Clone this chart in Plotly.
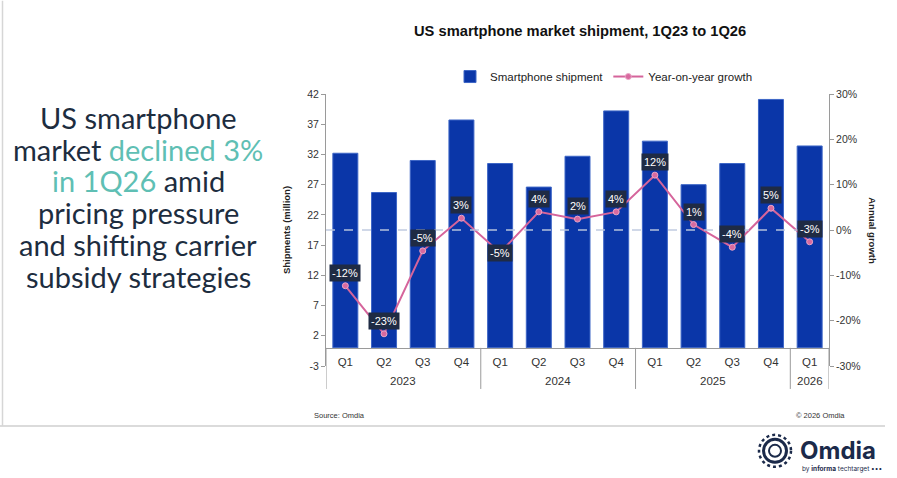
import plotly.graph_objects as go

# ---------------- data ----------------
years = ["2023", "2023", "2023", "2023", "2024", "2024", "2024", "2024",
         "2025", "2025", "2025", "2025", "2026"]
quarters = ["Q1", "Q2", "Q3", "Q4", "Q1", "Q2", "Q3", "Q4",
            "Q1", "Q2", "Q3", "Q4", "Q1"]
shipments = [32.2, 25.7, 31.0, 37.7, 30.5, 26.6, 31.7, 39.2,
             34.2, 27.0, 30.5, 41.1, 33.4]
yoy_growth = [-0.123, -0.229, -0.046, 0.026, -0.050, 0.040, 0.024, 0.040,
              0.121, 0.012, -0.038, 0.048, -0.026]
shipment_ticks = [-3, 2, 7, 12, 17, 22, 27, 32, 37, 42]
growth_ticks = [-0.30, -0.20, -0.10, 0.0, 0.10, 0.20, 0.30]

# ---------------- geometry helpers ----------------
W, H = 897, 478
L, R, T, B = 326, 829, 93.5, 366


def px(x):
    return (x - L) / (R - L)


def py(y):
    return (B - y) / (B - T)


NAVY = "#1d2d3f"
TEAL = "#5fbfb4"
BAR = "#0a36a8"
PINK = "#d5649b"
GREY = "#9a9a9a"
FONT = "Liberation Sans"

idx = list(range(len(quarters)))
axis_pos = (0 - shipment_ticks[0]) / (shipment_ticks[-1] - shipment_ticks[0])

fig = go.Figure()
fig.add_trace(go.Bar(
    x=idx, y=shipments, name="Smartphone shipment",
    marker=dict(color=BAR, line=dict(color="#3d66c6", width=1)),
    yaxis="y",
))
fig.add_trace(go.Scatter(
    x=idx, y=yoy_growth, name="Year-on-year growth",
    mode="lines+markers",
    line=dict(color=PINK, width=2),
    marker=dict(size=6, color="#d86aa0", line=dict(color="#eaa6c6", width=1)),
    yaxis="y2",
))

# dashed zero line for growth
fig.add_shape(type="line", xref="paper", yref="y2", x0=0, x1=1, y0=0, y1=0,
              line=dict(color="rgba(190,200,222,0.95)", width=1.5, dash="dash"),
              layer="above")

# data labels
for i, g in enumerate(yoy_growth):
    shift = 0 if i == 4 else 13
    fig.add_annotation(
        x=i, y=g, xref="x", yref="y2", text=f"{round(g * 100):d}%",
        showarrow=False, yshift=shift, bgcolor="#1f2b44",
        xanchor="center", yanchor="middle",
        font=dict(color="white", size=11, family=FONT), borderpad=2,
    )

# year group labels and dividers
groups = []
for i, yr in enumerate(years):
    if not groups or groups[-1][0] != yr:
        groups.append([yr, i, i])
    else:
        groups[-1][2] = i
for yr, a, b in groups:
    fig.add_annotation(x=(a + b) / 2, y=py(381), xref="x", yref="paper", text=yr,
                       showarrow=False, xanchor="center", yanchor="middle",
                       font=dict(size=11.5, color="#333333", family=FONT))
bounds = [g[1] - 0.5 for g in groups] + [groups[-1][2] + 0.5]
for xb in bounds:
    fig.add_shape(type="line", xref="x", yref="paper", x0=xb, x1=xb,
                  y0=axis_pos, y1=py(389), line=dict(color=GREY, width=1))

fig.update_layout(
    width=W, height=H,
    margin=dict(l=L, r=W - R, t=T, b=H - B, pad=0),
    paper_bgcolor="white", plot_bgcolor="white",
    font=dict(family=FONT, color="#333333", size=11),
    bargap=0.354,
    showlegend=True,
    legend=dict(orientation="h", x=px(604), xanchor="center", y=py(76),
                yanchor="middle", font=dict(size=11.5, color="#222222"),
                bgcolor="rgba(0,0,0,0)", itemwidth=30, tracegroupgap=0),
    xaxis=dict(anchor="free", position=axis_pos,
               range=[-0.5, len(quarters) - 0.5],
               tickvals=idx, ticktext=quarters,
               showline=True, linecolor=GREY, linewidth=1,
               tickfont=dict(size=11.5, color="#333333"), ticks="",
               ticklabelstandoff=3,
               showgrid=False, zeroline=False),
    yaxis=dict(range=[shipment_ticks[0], shipment_ticks[-1]], tickvals=shipment_ticks,
               ticktext=[str(v) for v in shipment_ticks],
               showline=True, linecolor=GREY, linewidth=1, ticks="outside",
               ticklen=4, tickcolor=GREY, showgrid=False, zeroline=False,
               tickfont=dict(size=10.5, color="#333333"),
               title=dict(text="<b>Shipments (million)</b>", font=dict(size=9.5, color="#222222"),
                          standoff=14)),
    yaxis2=dict(range=[growth_ticks[0], growth_ticks[-1]], tickvals=growth_ticks,
                ticktext=[f"{round(v * 100):d}%" for v in growth_ticks],
                overlaying="y", side="right",
                showline=True, linecolor=GREY, linewidth=1, ticks="outside",
                ticklen=4, tickcolor=GREY, showgrid=False, zeroline=False,
                tickfont=dict(size=10.5, color="#333333")),
)


def note(x, y, text, size, color, family=FONT, xa="center", angle=0):
    fig.add_annotation(xref="paper", yref="paper", x=px(x), y=py(y), text=text,
                       showarrow=False, xanchor=xa, yanchor="middle", textangle=angle,
                       font=dict(size=size, color=color, family=family))


# right axis title (reads top to bottom)
note(873, 230, "<b>Annual growth</b>", 9.5, "#222222", angle=90)

# chart title
note(580, 30, "<b>US smartphone market shipment, 1Q23 to 1Q26</b>", 14.7, "#111111")

# footer
note(312, 416, "Source: Omdia", 7.5, "#333333", xa="left")
note(847, 416, "© 2026 Omdia", 7.5, "#333333", xa="right")

# headline block on the left
headline = [
    "US smartphone",
    f"market <span style='color:{TEAL}'>declined 3%</span>",
    f"<span style='color:{TEAL}'>in 1Q26</span> amid",
    "pricing pressure",
    "and shifting carrier",
    "subsidy strategies",
]
for k, line in enumerate(headline):
    note(138, 117 + k * 31.8, line, 29, NAVY, family="Lato")

# frame lines
fig.add_shape(type="line", xref="paper", yref="paper", x0=px(0), x1=px(885),
              y0=py(426), y1=py(426), line=dict(color="#cfcfcf", width=1.5))
fig.add_shape(type="line", xref="paper", yref="paper", x0=px(2.5), x1=px(2.5),
              y0=py(0), y1=py(426), line=dict(color="#d6d6d6", width=1.5))

# logo
note(798, 451, "<b>Omdia</b>", 24, "#1b2a4a", family="Inter", xa="left")
note(800, 469, "by <b>informa</b> techtarget •••", 6.5, "#1b2a4a", family="Inter", xa="left")
cx, cy = 775, 451
for r, w, d in [(16, 2.5, "dot"), (11.5, 3, "solid"), (6, 2, "solid")]:
    fig.add_shape(type="circle", xref="paper", yref="paper",
                  x0=px(cx - r), x1=px(cx + r), y0=py(cy + r), y1=py(cy - r),
                  line=dict(color="#1b2a4a", width=w, dash=d))

fig.write_html("out.html")
